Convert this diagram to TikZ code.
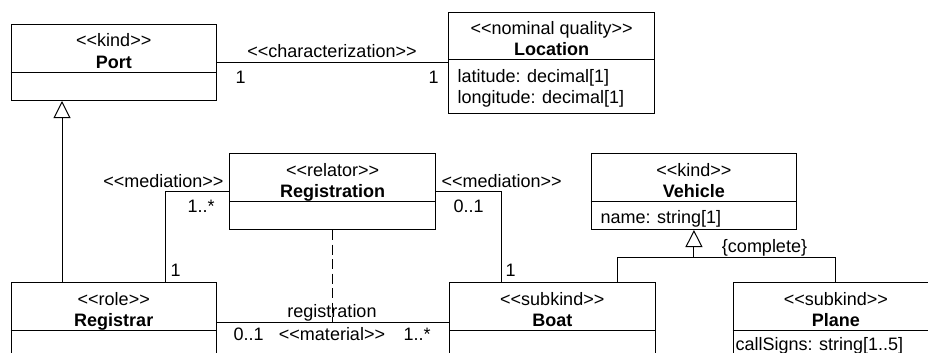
\documentclass[tikz,border=0pt]{standalone}
\usepackage{fontspec}
\setmainfont{Liberation Sans}
\usetikzlibrary{arrows.meta}
\newcommand\stereo[1]{<{}<#1>{}>}
\begin{document}
\begin{tikzpicture}[x=1pt,y=-1pt,
  font=\fontsize{18}{21}\selectfont,
  line width=1pt,
  cls/.style={draw, line width=1pt, anchor=north west, inner sep=0pt, minimum width=205.5pt},
  txt/.style={inner sep=0pt, anchor=base},
  lbl/.style={inner sep=0pt, anchor=base west},
  lblr/.style={inner sep=0pt, anchor=base east},
  gen/.style={-{Triangle[open, length=17pt, width=17pt]}, line width=1pt},
  dashline/.style={dash pattern=on 10pt off 4.5pt, line width=1pt}]
\useasboundingbox (0,0) rectangle (928,353);
\clip (0,0) rectangle (928,353);

% classes
\node[cls, minimum height=76pt] (port) at (10.5,24) {};
\draw (port.west |- 0,72) -- (port.east |- 0,72);
\node[txt] (portS) at (port.north |- 0,47) {\stereo{kind}};
\node[txt] (portN) at (port.north |- 0,68) {\bfseries Port};

\node[cls, minimum height=101pt] (location) at (448.3,12) {};
\draw (location.west |- 0,60) -- (location.east |- 0,60);
\node[txt] (locS) at (location.north |- 0,35) {\stereo{nominal quality}};
\node[txt] (locN) at (location.north |- 0,56) {\bfseries Location};
\node[lbl] (locA1) at (457,82) {latitude: decimal[1]};
\node[lbl] (locA2) at (457,103.5) {longitude: decimal[1]};

\node[cls, minimum height=76pt] (registration) at (229.3,153) {};
\draw (registration.west |- 0,201) -- (registration.east |- 0,201);
\node[txt] (regS) at (registration.north |- 0,176) {\stereo{relator}};
\node[txt] (regN) at (registration.north |- 0,197) {\bfseries Registration};

\node[cls, minimum height=76pt] (vehicle) at (590.7,153) {};
\draw (vehicle.west |- 0,201) -- (vehicle.east |- 0,201);
\node[txt] (vehS) at (vehicle.north |- 0,176) {\stereo{kind}};
\node[txt] (vehN) at (vehicle.north |- 0,197) {\bfseries Vehicle};
\node[lbl] (vehA1) at (600,223) {name: string[1]};

\node[cls, minimum height=80pt] (registrar) at (10.5,282) {};
\draw (registrar.west |- 0,330) -- (registrar.east |- 0,330);
\node[txt] (rgrS) at (registrar.north |- 0,305) {\stereo{role}};
\node[txt] (rgrN) at (registrar.north |- 0,326) {\bfseries Registrar};

\node[cls, minimum height=80pt] (boat) at (449,282) {};
\draw (boat.west |- 0,330) -- (boat.east |- 0,330);
\node[txt] (boatS) at (boat.north |- 0,305) {\stereo{subkind}};
\node[txt] (boatN) at (boat.north |- 0,326) {\bfseries Boat};

\node[cls, minimum height=80pt] (plane) at (732.7,282) {};
\draw (plane.west |- 0,330) -- (plane.east |- 0,330);
\node[txt] (plS) at (plane.north |- 0,305) {\stereo{subkind}};
\node[txt] (plN) at (plane.north |- 0,326) {\bfseries Plane};
\node[lbl] (plA1) at (735,350) {callSigns: string[1..5]};

% characterization
\draw (port.east) -- (port.east -| location.west);
\node[txt] (charL) at (332,58) {\stereo{characterization}};
\node[lbl] (charM1) at (235,83) {1};
\node[lbl] (charM2) at (428,83) {1};

% generalization Registrar -> Port
\coordinate (rgTop) at ([xshift=51.5pt]registrar.north west);
\draw[gen] (rgTop) -- (rgTop |- port.south);

% mediation left
\coordinate (medL) at ([xshift=154.5pt]registrar.north west);
\draw (registration.west) -| (medL);
\node[lblr] (medLL) at (224,187) {\stereo{mediation}};
\node[lbl] (medLM1) at (187,212) {1..*};
\node[lbl] (medLM2) at (170,276) {1};

% mediation right
\coordinate (medR) at ([xshift=52pt]boat.north west);
\draw (registration.east) -| (medR);
\node[lbl] (medRL) at (441,187) {\stereo{mediation}};
\node[lbl] (medRM1) at (453,212) {0..1};
\node[lbl] (medRM2) at (505,276) {1};

% material
\draw (registrar.east) -- (registrar.east -| boat.west);
\coordinate (matMid) at (registration.south |- registrar.east);
\draw[dashline] (registration.south) -- (matMid);
\node[txt] (matN) at (332,317) {registration};
\node[txt] (matS) at (332,340) {\stereo{material}};
\node[lbl] (matM1) at (233,340) {0..1};
\node[lbl] (matM2) at (403,340) {1..*};

% generalization set
\coordinate (gsJ) at (vehicle.south |- 0,257);
\coordinate (gsBoat) at ([xshift=168pt]boat.north west);
\draw[gen] (gsJ) -- (vehicle.south);
\draw (gsBoat) -- (gsBoat |- gsJ) -- (gsJ -| plane.north) -- (plane.north);
\node[txt] (gsL) at (764.5,252) {\{complete\}};
\end{tikzpicture}
\end{document}
